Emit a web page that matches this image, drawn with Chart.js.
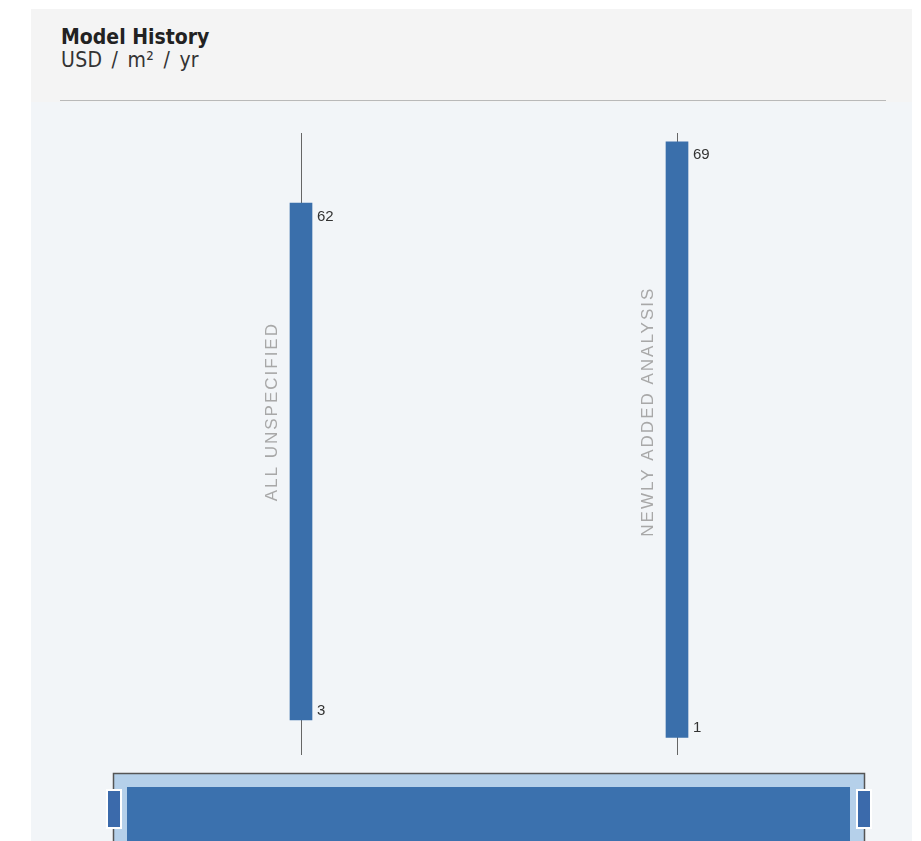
<!DOCTYPE html>
<html>
<head>
<meta charset="utf-8">
<script src="https://cdn.jsdelivr.net/npm/chart.js@4.4.1/dist/chart.umd.min.js"></script>
<style>
  html, body { margin: 0; padding: 0; background: #ffffff; }
  body { width: 921px; height: 841px; position: relative; overflow: hidden; }
  .panel { position: absolute; left: 31px; top: 9px; width: 881px; height: 840px; background: #f4f4f4; }
  .plotbg { position: absolute; left: 31px; top: 102px; width: 881px; height: 740px; background: #f2f5f8; }
  .title { position: absolute; left: 61px; top: 25px; font-family: "DejaVu Sans Condensed", "DejaVu Sans", sans-serif; font-stretch: condensed; color: #222; }
  .title h1 { margin: 0; font-size: 21px; font-weight: bold; line-height: 24px; }
  .title h2 { margin: 0; font-size: 21px; font-weight: normal; line-height: 23px; color: #333; word-spacing: 3px; letter-spacing: 0.3px; }
  .rule { position: absolute; left: 60px; top: 100px; width: 826px; height: 1px; background: #b9b9b9; }
  #chart { position: absolute; left: 0; top: 0; }
</style>
</head>
<body>
<div class="panel"></div>
<div class="plotbg"></div>
<div class="title">
  <h1>Model History</h1>
  <h2>USD / m² / yr</h2>
</div>
<div class="rule"></div>
<canvas id="chart" width="921" height="841"></canvas>
<script>
// categories and values
const categories = ['ALL UNSPECIFIED', 'NEWLY ADDED ANALYSIS'];
const lowValues = [3, 1];
const highValues = [62, 69];
const whiskerLow = [-1, -1];
const whiskerHigh = [70, 70];

const barColor = '#3a6fab';

// thin vertical line behind each bar
const whiskers = {
  id: 'whiskers',
  beforeDatasetsDraw(chart) {
    const { ctx, scales: { x, y } } = chart;
    ctx.save();
    ctx.strokeStyle = '#666';
    ctx.lineWidth = 1;
    categories.forEach((c, i) => {
      const px = Math.round(x.getPixelForValue(i)) + 0.5;
      ctx.beginPath();
      ctx.moveTo(px, y.getPixelForValue(whiskerHigh[i]));
      ctx.lineTo(px, y.getPixelForValue(whiskerLow[i]));
      ctx.stroke();
    });
    ctx.restore();
  }
};

// value labels at both ends, category names rotated beside the bar
const barLabels = {
  id: 'barLabels',
  afterDatasetsDraw(chart) {
    const { ctx, chartArea } = chart;
    const meta = chart.getDatasetMeta(0);
    ctx.save();
    meta.data.forEach((bar, i) => {
      const right = bar.x + bar.width / 2;
      const left = bar.x - bar.width / 2;
      ctx.fillStyle = '#333';
      ctx.font = '15px "Liberation Sans", Arial, sans-serif';
      ctx.textAlign = 'left';
      ctx.textBaseline = 'top';
      ctx.fillText(String(highValues[i]), right + 5, Math.min(bar.y, bar.base) + 6);
      ctx.textBaseline = 'bottom';
      ctx.fillText(String(lowValues[i]), right + 5, Math.max(bar.y, bar.base) - 2);

      ctx.save();
      ctx.translate(left - 18, chartArea.top + chartArea.height * 0.448);
      ctx.rotate(-Math.PI / 2);
      ctx.fillStyle = '#a8a8a8';
      ctx.font = '17px "Liberation Sans", Arial, sans-serif';
      ctx.letterSpacing = '2px';
      ctx.textAlign = 'center';
      ctx.textBaseline = 'middle';
      ctx.fillText(categories[i], 0, 0);
      ctx.restore();
    });
    ctx.restore();
  }
};

// range selector strip under the plot
const navigator = {
  id: 'navigator',
  afterDraw(chart) {
    const { ctx, chartArea } = chart;
    const l = chartArea.left, r = chartArea.right - 1;
    const top = chartArea.bottom + 18;
    ctx.save();
    ctx.fillStyle = '#b5d0ea';
    ctx.fillRect(l, top, r - l, 80);
    ctx.strokeStyle = '#555';
    ctx.lineWidth = 1.5;
    ctx.strokeRect(l + 0.5, top + 0.5, r - l, 80);
    ctx.fillStyle = '#3b71ae';
    ctx.fillRect(l + 14, top + 14, r - l - 28, 80);
    [l - 6, r - 7].forEach(hx => {
      ctx.fillStyle = '#3b6aab';
      ctx.fillRect(hx, top + 17, 14, 38);
      ctx.strokeStyle = '#ffffff';
      ctx.lineWidth = 2;
      ctx.strokeRect(hx, top + 17, 14, 38);
    });
    ctx.restore();
  }
};

new Chart(document.getElementById('chart'), {
  type: 'bar',
  data: {
    labels: categories,
    datasets: [{
      data: lowValues.map((v, i) => [v, highValues[i]]),
      backgroundColor: barColor,
      borderWidth: 0,
      barThickness: 22,
      borderSkipped: false
    }]
  },
  options: {
    responsive: false,
    animation: false,
    layout: { padding: { left: 113, right: 56, top: 133, bottom: 86 } },
    scales: {
      x: { display: false },
      y: { display: false, min: -1, max: 70 }
    },
    plugins: {
      legend: { display: false },
      tooltip: { enabled: false }
    }
  },
  plugins: [whiskers, barLabels, navigator]
});
</script>
</body>
</html>
